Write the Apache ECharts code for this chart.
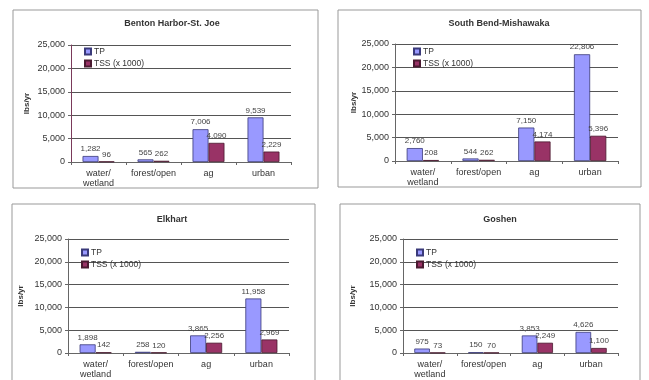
<!DOCTYPE html>
<html>
<head>
<meta charset="utf-8">
<script src="https://cdn.jsdelivr.net/npm/echarts@6/dist/echarts.min.js"></script>
<style>
  html, body { margin: 0; padding: 0; background: #fff; }
  #chart { width: 649px; height: 380px; }
</style>
</head>
<body>
<div id="chart"></div>
<script>
  // data
  const categories = ['water/\nwetland', 'forest/open', 'ag', 'urban'];
  const panelTitles = ['Benton Harbor-St. Joe', 'South Bend-Mishawaka', 'Elkhart', 'Goshen'];
  const seriesNames = ['TP', 'TSS (x 1000)'];
  const bentonTP = [1282, 565, 7006, 9539];
  const bentonTSS = [96, 262, 4090, 2229];
  const southBendTP = [2760, 544, 7150, 22806];
  const southBendTSS = [208, 262, 4174, 5396];
  const elkhartTP = [1898, 258, 3865, 11958];
  const elkhartTSS = [142, 120, 2256, 2969];
  const goshenTP = [975, 150, 3853, 4626];
  const goshenTSS = [73, 70, 2249, 1100];
  const yTicks = [0, 5000, 10000, 15000, 20000, 25000];

  const panelData = [
    [bentonTP, bentonTSS],
    [southBendTP, southBendTSS],
    [elkhartTP, elkhartTSS],
    [goshenTP, goshenTSS],
  ];

  // layout (px)
  const grids = [
    { left: 71, top: 45, width: 220, height: 117 },
    { left: 395, top: 44, width: 223, height: 117 },
    { left: 68, top: 239, width: 221, height: 117 },
    { left: 403, top: 239, width: 215, height: 116 },
  ];
  const boxes = [
    { x: 13, y: 10, w: 305, h: 178 },
    { x: 338, y: 10, w: 303, h: 177 },
    { x: 12, y: 204, w: 303, h: 190 },
    { x: 340, y: 204, w: 300, h: 190 },
  ];
  const titlePos = [[167, 14], [494, 14], [167, 210], [495, 210]];
  const yNameX = [27, 354, 21, 353];
  const legendPos = [[84, 47], [413, 47], [81, 248], [416, 248]];
  const axisColors = ['#7a3a5a', '#666', '#666', '#666'];

  const colors = ['#9999ff', '#993366'];
  const borders = ['#3a3a7a', '#4a1a30'];
  const font = 'Liberation Sans, Arial, sans-serif';
  const fmt = (v) => v.toLocaleString('en-US');

  const option = {
    animation: false,
    backgroundColor: '#fff',
    textStyle: { fontFamily: font },
    title: panelTitles.map((t, i) => ({
      text: t,
      left: titlePos[i][0],
      top: titlePos[i][1],
      textAlign: 'center',
      textStyle: { fontSize: 9, fontWeight: 'bold', color: '#333', fontFamily: font },
    })),
    legend: legendPos.map((p) => ({
      data: seriesNames,
      orient: 'vertical',
      left: p[0],
      top: p[1],
      padding: 0,
      itemWidth: 6,
      itemHeight: 6,
      itemGap: 3,
      icon: 'rect',
      selectedMode: false,
      textStyle: { fontSize: 8.5, color: '#333', padding: [0, 0, 0, -2] },
    })),
    grid: grids.map((g) => ({ ...g, containLabel: false })),
    xAxis: grids.map((g, i) => ({
      type: 'category',
      gridIndex: i,
      data: categories,
      axisLine: { lineStyle: { color: '#666' } },
      axisTick: { show: true, inside: false, length: 3, lineStyle: { color: '#666' } },
      axisLabel: { fontSize: 9, color: '#333', lineHeight: 10, margin: 7, interval: 0 },
    })),
    yAxis: grids.map((g, i) => ({
      type: 'value',
      gridIndex: i,
      min: yTicks[0],
      max: yTicks[yTicks.length - 1],
      interval: yTicks[1] - yTicks[0],
      name: 'lbs/yr',
      nameLocation: 'middle',
      nameRotate: 90,
      nameGap: g.left - yNameX[i] - 4,
      nameTextStyle: { fontSize: 8, fontWeight: 'bold', color: '#333' },
      axisLine: { show: true, lineStyle: { color: axisColors[i], width: 1 } },
      axisTick: { show: true, length: 3, lineStyle: { color: '#666' } },
      axisLabel: { fontSize: 9, color: '#333', margin: 6, formatter: fmt },
      splitLine: { show: true, lineStyle: { color: '#555', width: 1 } },
    })),
    series: [],
    graphic: boxes.map((b) => ({
      type: 'rect',
      shape: { x: b.x, y: b.y, width: b.w, height: b.h },
      style: { fill: 'none', stroke: '#999', lineWidth: 1 },
      silent: true,
      z: -1,
    })),
  };

  panelData.forEach((pair, i) => {
    pair.forEach((vals, k) => {
      option.series.push({
        name: seriesNames[k],
        type: 'bar',
        xAxisIndex: i,
        yAxisIndex: i,
        data: vals,
        barGap: '0%',
        barCategoryGap: '42%',
        itemStyle: { color: colors[k], borderColor: borders[k], borderWidth: 0.8 },
        label: {
          show: true,
          position: 'top',
          distance: 3,
          fontSize: 8,
          color: '#444',
          formatter: (p) => fmt(p.value),
        },
      });
    });
  });

  const chart = echarts.init(document.getElementById('chart'), null, { renderer: 'canvas' });
  chart.setOption(option);
</script>
</body>
</html>
